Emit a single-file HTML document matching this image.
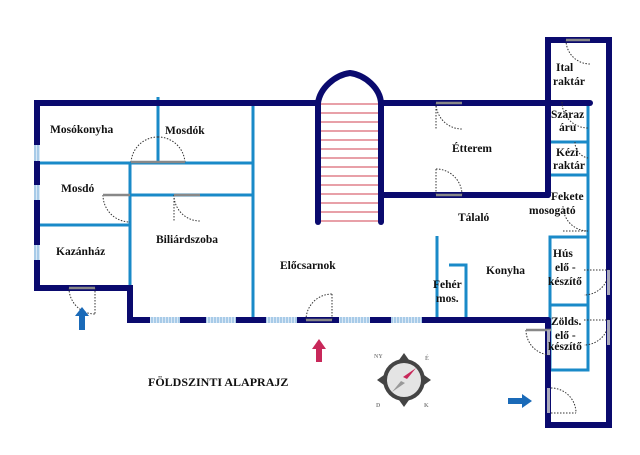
<!DOCTYPE html>
<html><head><meta charset="utf-8"><style>
html,body{margin:0;padding:0;background:#fff;width:640px;height:455px;overflow:hidden}
svg text{font-family:"Liberation Serif",serif;font-weight:bold;font-size:11.5px;fill:#111}
</style></head><body>
<svg width="640" height="455" viewBox="0 0 640 455" xmlns="http://www.w3.org/2000/svg">
<defs>
<pattern id="win" width="3" height="3" patternUnits="userSpaceOnUse"><rect width="3" height="3" fill="#a8cbe8"/><rect width="1" height="3" fill="#d8e8f6"/></pattern>
</defs>
<g stroke="#d04050" stroke-width="1">
<line x1="321" y1="104" x2="379" y2="104"/><line x1="321" y1="113" x2="379" y2="113"/><line x1="321" y1="122" x2="379" y2="122"/><line x1="321" y1="131" x2="379" y2="131"/><line x1="321" y1="140" x2="379" y2="140"/><line x1="321" y1="149" x2="379" y2="149"/><line x1="321" y1="158" x2="379" y2="158"/><line x1="321" y1="167" x2="379" y2="167"/><line x1="321" y1="176" x2="379" y2="176"/><line x1="321" y1="185" x2="379" y2="185"/><line x1="321" y1="194" x2="379" y2="194"/><line x1="321" y1="203" x2="379" y2="203"/><line x1="321" y1="212" x2="379" y2="212"/><line x1="321" y1="221" x2="379" y2="221"/>
</g>
<g stroke="#1a8ac8" stroke-width="3" fill="none">
<line x1="158" y1="97" x2="158" y2="163"/>
<line x1="37" y1="163" x2="253" y2="163"/>
<line x1="130" y1="163" x2="130" y2="288"/>
<line x1="130" y1="195" x2="253" y2="195"/>
<line x1="37" y1="225" x2="130" y2="225"/>
<line x1="253" y1="103" x2="253" y2="320"/>
<line x1="437" y1="236" x2="437" y2="320"/>
<polyline points="449,265 466,265 466,320"/>
<line x1="588" y1="102" x2="588" y2="370"/>
<line x1="548" y1="142" x2="588" y2="142"/>
<line x1="548" y1="175" x2="588" y2="175"/>
<rect x="550" y="237" width="38" height="68"/>
<rect x="550" y="305" width="38" height="65"/>
</g>
<g stroke="#0a0a6e" stroke-width="6" fill="none" stroke-linecap="round" stroke-linejoin="miter">
<polyline points="318,103 37,103 37,288 130,288 130,320 548,320"/>
<line x1="382" y1="103" x2="590" y2="103"/>
<line x1="382" y1="195" x2="548" y2="195"/>
<line x1="318" y1="103" x2="318" y2="222"/>
<line x1="381" y1="103" x2="381" y2="222"/>
<path d="M318,103 C320,88 335,75 350,73 C365,75 380,88 381,103"/>
<polyline points="548,195 548,40 609,40 609,425 548,425 548,320"/>
</g>
<g fill="url(#win)">
<rect x="34" y="145" width="6" height="16"/><rect x="34" y="185" width="6" height="15"/><rect x="34" y="245" width="6" height="15"/>
<rect x="150" y="317" width="30" height="6"/><rect x="206" y="317" width="30" height="6"/><rect x="266" y="317" width="31" height="6"/><rect x="339" y="317" width="31" height="6"/><rect x="391" y="317" width="31" height="6"/>
</g>
<g fill="none" stroke="#333" stroke-width="1" stroke-dasharray="1.5,1.5">
<path d="M158,137 A27,27 0 0 0 131,163"/><path d="M158,137 A27,27 0 0 1 185,163"/>
<path d="M103,136 A27,27 0 0 0 130,163" transform="translate(0,59)"/>
<path d="M174,195 A26,26 0 0 0 200,221"/><line x1="174" y1="195" x2="174" y2="221"/>
<path d="M69,288 A26,26 0 0 0 95,314"/><line x1="95" y1="288" x2="95" y2="314"/>
<path d="M306,320 A26,26 0 0 1 332,294"/><line x1="332" y1="294" x2="332" y2="320"/>
<path d="M436,103 A26,26 0 0 0 462,129"/><line x1="436" y1="103" x2="436" y2="129"/>
<path d="M436,169 A26,26 0 0 1 462,195"/><line x1="436" y1="169" x2="436" y2="195"/>
<path d="M566,40 A24,24 0 0 0 590,64"/>
<path d="M562,102 A26,26 0 0 0 588,128"/>
<path d="M575,142 A16,16 0 0 0 588,158"/>
<path d="M563,206 A25,25 0 0 0 588,231"/><line x1="563" y1="231" x2="588" y2="231"/>
<path d="M609,270 A25,25 0 0 1 584,295"/><line x1="584" y1="270" x2="609" y2="270"/>
<path d="M609,320 A25,25 0 0 1 584,345"/><line x1="584" y1="320" x2="609" y2="320"/>
<path d="M526,330 A25,25 0 0 0 551,355"/>
<path d="M551,388 A25,25 0 0 1 576,413"/><line x1="551" y1="413" x2="576" y2="413"/>
</g>
<g stroke="#888" stroke-width="2.5">
<line x1="131" y1="162" x2="185" y2="162"/><line x1="103" y1="195" x2="130" y2="195"/><line x1="174" y1="195" x2="200" y2="195"/>
<line x1="69" y1="288" x2="95" y2="288"/><line x1="306" y1="320" x2="332" y2="320"/>
<line x1="436" y1="103" x2="462" y2="103"/><line x1="436" y1="195" x2="462" y2="195"/>
<line x1="566" y1="40" x2="590" y2="40"/><line x1="526" y1="330" x2="551" y2="330"/>
</g>
<g fill="#aab"><rect x="547" y="330" width="3" height="25"/><rect x="547" y="388" width="3" height="25"/><rect x="607" y="270" width="3" height="25"/><rect x="607" y="320" width="3" height="25"/></g>
<text x="50" y="133">Mosókonyha</text>
<text x="165" y="134">Mosdók</text>
<text x="61" y="192">Mosdó</text>
<text x="56" y="255">Kazánház</text>
<text x="156" y="243">Biliárdszoba</text>
<text x="280" y="269">Előcsarnok</text>
<text x="452" y="152">Étterem</text>
<text x="458" y="221">Tálaló</text>
<text x="486" y="274">Konyha</text>
<text x="433" y="288">Fehér</text>
<text x="436" y="302">mos.</text>
<text x="556" y="71">Ital</text>
<text x="553" y="85">raktár</text>
<text x="551" y="118">Száraz</text>
<text x="559" y="131">áru</text>
<text x="556" y="156">Kézi</text>
<text x="553" y="169">raktár</text>
<text x="551" y="200">Fekete</text>
<text x="529" y="214">mosogató</text>
<text x="553" y="257">Hús</text>
<text x="555" y="271">elő -</text>
<text x="548" y="285">készítő</text>
<text x="551" y="325">Zölds.</text>
<text x="555" y="339">elő -</text>
<text x="548" y="350">készítő</text>
<text x="148" y="386" style="font-size:12px">FÖLDSZINTI ALAPRAJZ</text>
<polygon points="82,307 89,316 85,316 85,330 79,330 79,316 75,316" fill="#1a6ab8"/>
<polygon points="319,339 326,349 322,349 322,362 316,362 316,349 312,349" fill="#c8285a"/>
<polygon points="532,401 522,394 522,398 508,398 508,404 522,404 522,408" fill="#1a6ab8"/>
<g transform="translate(404,380)">
<g fill="#444"><polygon points="0,-27 5,-20 -5,-20"/><polygon points="0,27 5,20 -5,20"/><polygon points="-27,0 -20,5 -20,-5"/><polygon points="27,0 20,5 20,-5"/></g>
<circle r="21" fill="#444"/><circle r="17" fill="#e4e4e4"/>
<polygon points="12,-12 3,-1 -1,-3" fill="#c8285a"/><polygon points="-12,12 -3,1 1,3" fill="#999"/>
<text x="-30" y="-22" style="font-size:6px;fill:#888">NY</text><text x="21" y="-20" style="font-size:6px;fill:#888">É</text>
<text x="-28" y="27" style="font-size:6px;fill:#888">D</text><text x="20" y="27" style="font-size:6px;fill:#888">K</text>
</g>
</svg>
</body></html>
